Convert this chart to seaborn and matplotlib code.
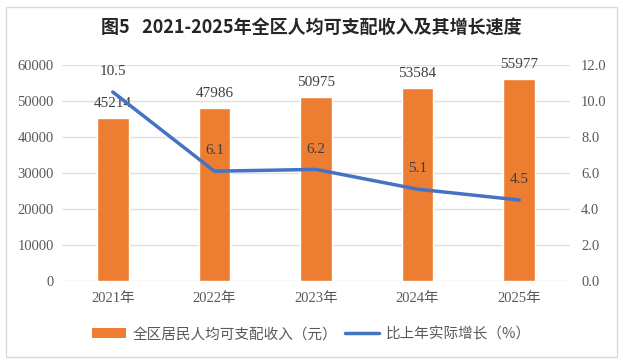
import matplotlib
matplotlib.use("Agg")
import matplotlib.pyplot as plt
import seaborn as sns
import pandas as pd
from matplotlib.patches import Rectangle
from matplotlib.lines import Line2D
from matplotlib.patches import Patch

years = ["2021年", "2022年", "2023年", "2024年", "2025年"]
income = [45214, 47986, 50975, 53584, 55977]
growth = [10.5, 6.1, 6.2, 5.1, 4.5]
left_ticks = [0, 10000, 20000, 30000, 40000, 50000, 60000]
right_ticks = [0.0, 2.0, 4.0, 6.0, 8.0, 10.0, 12.0]

sns.set_theme(style="white")
plt.rcParams['font.family'] = ['Liberation Serif', 'Noto Sans CJK SC']

df = pd.DataFrame({"year": years, "income": income, "growth": growth})

fig = plt.figure(figsize=(6.23, 3.63), dpi=100)
fig.patches.append(Rectangle((6/623, 6/363), 611/623, 350/363, transform=fig.transFigure,
                             fill=False, edgecolor="#d9d9d9", linewidth=1.0))
ax = fig.add_axes([62/623, 1-281/363, 508/623, 216/363])

sns.barplot(data=df, x="year", y="income", color="#ED7D31", width=0.31, ax=ax,
            saturation=1, zorder=2)
ax.set_ylim(0, 60000)
ax.set_yticks(left_ticks)
ax.set_yticklabels([str(t) for t in left_ticks], fontsize=10.5, color="#595959")
ax.set_xlabel("")
ax.set_ylabel("")
ax.tick_params(axis="x", labelsize=10.5, colors="#595959", length=0, pad=8)
ax.tick_params(axis="y", length=0, pad=6)
ax.grid(axis="y", color="#e0e0e0", linewidth=1, zorder=0)
ax.set_axisbelow(True)
for s in ax.spines.values():
    s.set_visible(False)
ax.set_xlim(-0.5, 4.5)

for i, v in enumerate(income):
    ax.annotate(str(v), (i, v), xytext=(0, 6), textcoords="offset points",
                ha="center", va="bottom", fontsize=11, color="#404040")

ax2 = ax.twinx()
sns.lineplot(x=list(range(5)), y=growth, color="#4472C4", linewidth=2.5, ax=ax2, zorder=3)
ax2.set_ylim(0, 12)
ax2.set_yticks(right_ticks)
ax2.set_yticklabels([f"{t:.1f}" for t in right_ticks], fontsize=10.5, color="#595959")
ax2.tick_params(axis="y", length=0, pad=8)
ax2.grid(False)
for s in ax2.spines.values():
    s.set_visible(False)
ax2.set_xlim(-0.5, 4.5)
for i, v in enumerate(growth):
    ax2.annotate(f"{v}", (i, v), xytext=(0, 10), textcoords="offset points",
                 ha="center", va="bottom", fontsize=11, color="#404040")

fig.text(0.5, 1-28/363, "图5   2021-2025年全区人均可支配收入及其增长速度", ha="center", va="center",
         fontsize=13, fontweight="bold", color="#262626",
         family=["Noto Sans CJK SC", "DejaVu Sans"])

handles = [Patch(facecolor="#ED7D31", edgecolor="none"),
           Line2D([0], [0], color="#4472C4", linewidth=2.5)]
labels = ["全区居民人均可支配收入（元）", "比上年实际增长（%）"]
fig.legend(handles, labels, loc="center", bbox_to_anchor=(0.5, 1-334/363), ncol=2,
           frameon=False, handlelength=2.3, columnspacing=0.5, handletextpad=0.5,
           labelcolor="#595959", prop={"family": ["Noto Sans CJK SC", "DejaVu Sans"], "size": 10.5})

fig.savefig("out.png", dpi=100)
